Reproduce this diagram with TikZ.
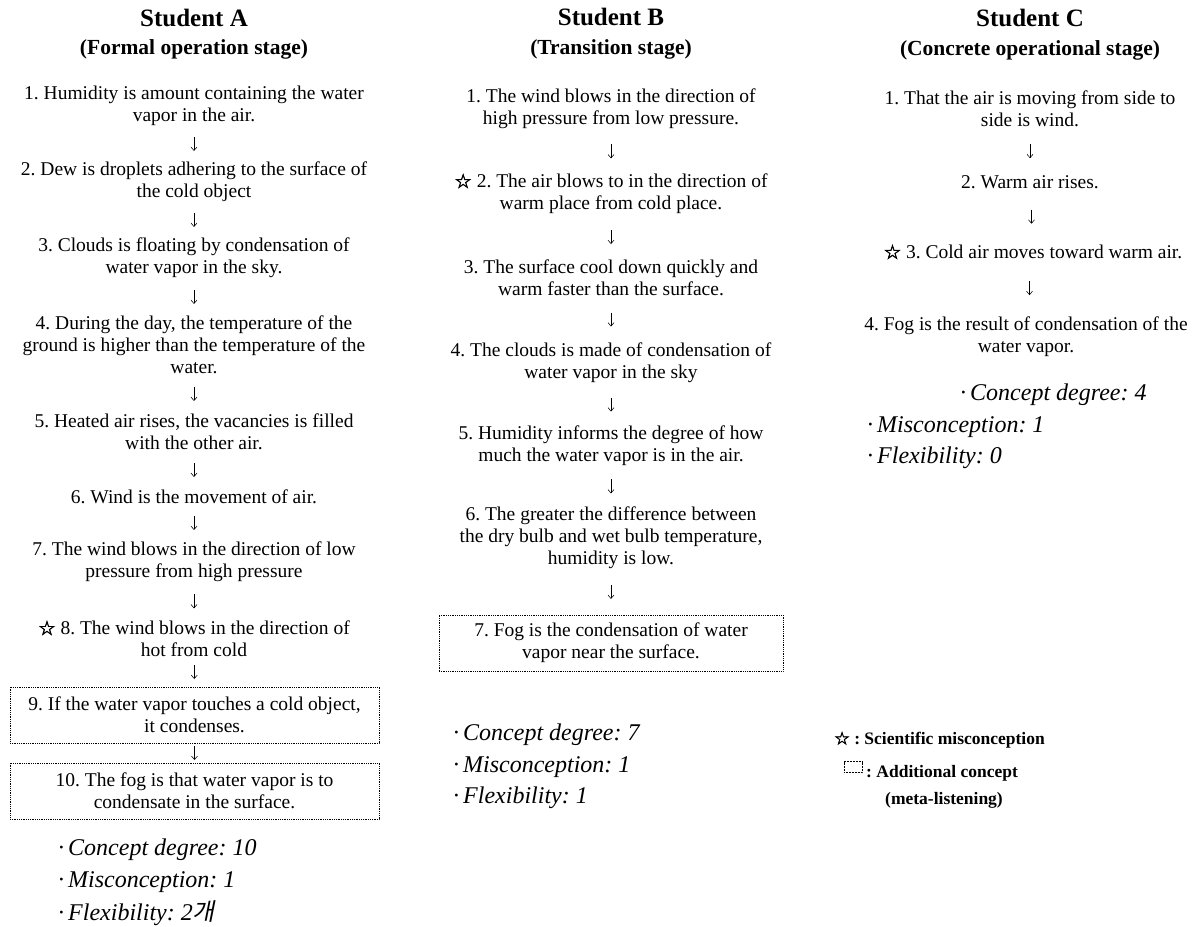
\documentclass[tikz,border=0pt]{standalone}
\usepackage{fontspec}
\setmainfont{Liberation Serif}
\newfontfamily\krfont[FakeSlant=0.2]{Noto Sans CJK KR}
\newfontfamily\symfont[FakeBold=2.5]{DejaVu Sans}
\usetikzlibrary{arrows.meta}
\frenchspacing

\begin{document}
\begin{tikzpicture}[x=1pt, y=-1pt,
    item/.style={align=center, inner sep=0pt,
        font=\fontsize{19.5}{22}\selectfont},
    extra/.style={item, draw, line width=0.6pt,
        dash pattern=on 0.7pt off 1.1pt, minimum height=56pt},
    title/.style={inner sep=0pt, font=\bfseries\fontsize{25}{28}\selectfont},
    stage/.style={inner sep=0pt, font=\bfseries\fontsize{21.5}{24}\selectfont},
    tally/.style={anchor=west, inner sep=0pt,
        font=\itshape\fontsize{24}{28}\selectfont},
    legend/.style={anchor=west, inner sep=0pt,
        font=\bfseries\fontsize{17.5}{20}\selectfont},
    flow/.style={-{Straight Barb[length=3.5pt, width=6pt]}, line width=0.55pt}
]
    % Definitions
    \newcommand{\flowarrow}[2]{
        \path (#1.south) -- coordinate (mid) (#2.north);
        \draw[flow] (mid) ++(0,-7) -- ++(0,14);
    }
    \newcommand{\miscon}{{\symfont ☆}}

    \useasboundingbox (0,0) rectangle (1195,927);

    % Student A
    \node[title] (titleA) at (194,18) {Student A};
    \node[stage] (stageA) at (194,49) {(Formal operation stage)};
    \node[item] (a1) at (194,106)
        {1. Humidity is amount containing the water\\ vapor in the air.};
    \node[item] (a2) at (194,182)
        {2. Dew is droplets adhering to the surface of\\ the cold object};
    \node[item] (a3) at (194,258)
        {3. Clouds is floating by condensation of\\ water vapor in the sky.};
    \node[item] (a4) at (194,345)
        {4. During the day, the temperature of the\\ ground is higher than
         the temperature of the\\ water.};
    \node[item] (a5) at (194,432)
        {5. Heated air rises, the vacancies is filled\\ with the other air.};
    \node[item] (a6) at (194,497)
        {6. Wind is the movement of air.};
    \node[item] (a7) at (194,562)
        {7. The wind blows in the direction of low\\ pressure from high pressure};
    \node[item] (a8) at (194,639)
        {\miscon\ 8. The wind blows in the direction of\\ hot from cold};
    \node[extra, minimum width=369pt] (a9) at (194.5,715)
        {9. If the water vapor touches a cold object,\\ it condenses.};
    \node[extra, minimum width=369pt] (a10) at (194.5,791)
        {10. The fog is that water vapor is to\\ condensate in the surface.};
    \node[tally] (degA) at (58,850) {·\,Concept degree: 10};
    \node[tally] (misA) at (58,882) {·\,Misconception: 1};
    \node[tally] (flexA) at (58,913) {·\,Flexibility: 2{\krfont 개}};

    \flowarrow{a1}{a2}
    \flowarrow{a2}{a3}
    \flowarrow{a3}{a4}
    \flowarrow{a4}{a5}
    \flowarrow{a5}{a6}
    \flowarrow{a6}{a7}
    \flowarrow{a7}{a8}
    \flowarrow{a8}{a9}
    \flowarrow{a9}{a10}

    % Student B
    \node[title] (titleB) at (611,17) {Student B};
    \node[stage] (stageB) at (611,49) {(Transition stage)};
    \node[item] (b1) at (611,109)
        {1. The wind blows in the direction of\\ high pressure from low pressure.};
    \node[item] (b2) at (611,194)
        {\miscon\ 2. The air blows to in the direction of\\ warm place from cold place.};
    \node[item] (b3) at (611,278)
        {3. The surface cool down quickly and\\ warm faster than the surface.};
    \node[item] (b4) at (611,363)
        {4. The clouds is made of condensation of\\ water vapor in the sky};
    \node[item] (b5) at (611,446)
        {5. Humidity informs the degree of how\\ much the water vapor is in the air.};
    \node[item] (b6) at (611,538)
        {6. The greater the difference between\\ the dry bulb and wet bulb
         temperature,\\ humidity is low.};
    \node[extra, minimum width=344pt] (b7) at (611,643)
        {7. Fog is the condensation of water\\ vapor near the surface.};
    \node[tally] (degB) at (453,735) {·\,Concept degree: 7};
    \node[tally] (misB) at (453,767) {·\,Misconception: 1};
    \node[tally] (flexB) at (453,798) {·\,Flexibility: 1};

    \flowarrow{b1}{b2}
    \flowarrow{b2}{b3}
    \flowarrow{b3}{b4}
    \flowarrow{b4}{b5}
    \flowarrow{b5}{b6}
    \flowarrow{b6}{b7}

    % Student C
    \node[title] (titleC) at (1030,18) {Student C};
    \node[stage] (stageC) at (1030,50) {(Concrete operational stage)};
    \node[item] (c1) at (1030,109)
        {1. That the air is moving from side to\\ side is wind.};
    \node[item] (c2) at (1030,182) {2. Warm air rises.};
    \node[item] (c3) at (1033,252) {\miscon\ 3. Cold air moves toward warm air.};
    \node[item] (c4) at (1026,337)
        {4. Fog is the result of condensation of the\\ water vapor.};
    \node[tally] (degC) at (960,395) {·\,Concept degree: 4};
    \node[tally] (misC) at (867,427) {·\,Misconception: 1};
    \node[tally] (flexC) at (867,458) {·\,Flexibility: 0};

    \flowarrow{c1}{c2}
    \flowarrow{c2}{c3}
    \flowarrow{c3}{c4}

    % Legend
    \node[legend] (keyStar) at (834,740) {\miscon\ : Scientific misconception};
    \node[draw, dash pattern=on 0.6pt off 0.9pt, line width=0.5pt,
          minimum width=18pt, minimum height=11pt, inner sep=0pt
    ] (keyBox) at (853,767) {};
    \node[legend] (keyExtra) at (866,773) {: Additional concept};
    \node[legend] (keyMeta) at (885,800) {(meta-listening)};
\end{tikzpicture}
\end{document}
